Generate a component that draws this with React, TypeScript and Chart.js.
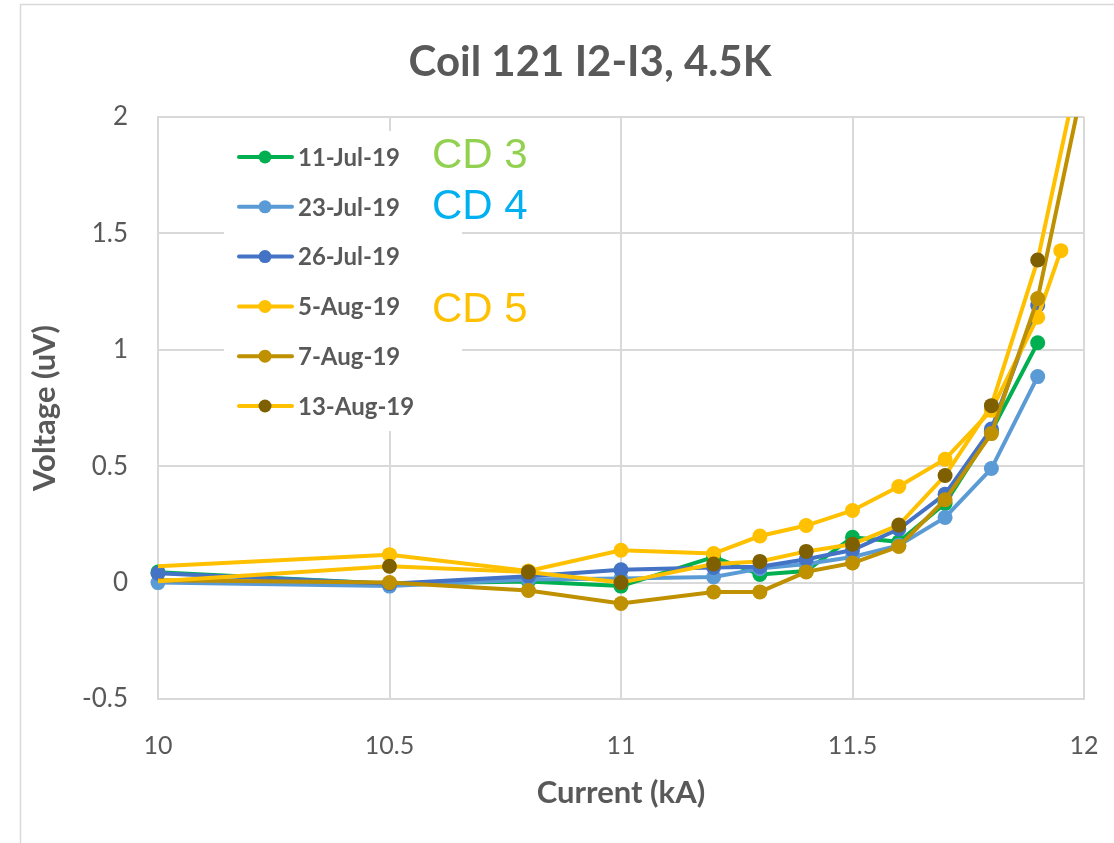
import React, { useEffect, useRef } from "react";
import { Chart, registerables } from "chart.js";

Chart.register(...registerables);

// ---- Text ----
const chartTitle = "Coil 121 I2-I3, 4.5K";
const xAxisTitle = "Current (kA)";
const yAxisTitle = "Voltage (uV)";

// ---- Axis ticks ----
const xTicks = [10, 10.5, 11, 11.5, 12];
const yTicks = [-0.5, 0, 0.5, 1, 1.5, 2];

// ---- Series (current in kA, voltage in uV) ----
const seriesNames = ["11-Jul-19", "23-Jul-19", "26-Jul-19", "5-Aug-19", "7-Aug-19", "13-Aug-19"];

const julCurrent = [10, 10.5, 10.8, 11, 11.2, 11.3, 11.4, 11.5, 11.6, 11.7, 11.8, 11.9];
const jul11Voltage = [0.045, -0.005, 0.005, -0.015, 0.11, 0.035, 0.05, 0.195, 0.175, 0.34, 0.65, 1.03];
const jul23Voltage = [0.0, -0.015, 0.013, 0.018, 0.024, 0.06, 0.08, 0.11, 0.16, 0.28, 0.49, 0.885];
const jul26Voltage = [0.04, -0.005, 0.027, 0.055, 0.065, 0.068, 0.1, 0.14, 0.23, 0.38, 0.66, 1.19];

const aug5Current = [9.5, 10.5, 10.8, 11, 11.2, 11.3, 11.4, 11.5, 11.6, 11.7, 11.8, 11.9, 11.95];
const aug5Voltage = [0.02, 0.12, 0.05, 0.139, 0.125, 0.2, 0.245, 0.31, 0.413, 0.53, 0.74, 1.14, 1.426];

const aug7Current = [9.5, 10.5, 10.8, 11, 11.2, 11.3, 11.4, 11.5, 11.6, 11.7, 11.8, 11.9, 12];
const aug7Voltage = [0.02, 0.0, -0.034, -0.09, -0.04, -0.04, 0.046, 0.084, 0.155, 0.356, 0.64, 1.22, 2.16];

const aug13Current = [9.5, 10.5, 10.8, 11, 11.2, 11.3, 11.4, 11.5, 11.6, 11.7, 11.8, 11.9, 12];
const aug13Voltage = [-0.058, 0.07, 0.046, 0.0, 0.08, 0.091, 0.134, 0.165, 0.247, 0.46, 0.76, 1.386, 2.31];

const seriesCurrents = [julCurrent, julCurrent, julCurrent, aug5Current, aug7Current, aug13Current];
const seriesVoltages = [jul11Voltage, jul23Voltage, jul26Voltage, aug5Voltage, aug7Voltage, aug13Voltage];

const lineColors = ["#00B050", "#5B9BD5", "#4472C4", "#FFC000", "#BF9000", "#FFC000"];
const markerColors = ["#00B050", "#5B9BD5", "#4472C4", "#FFC000", "#BF9000", "#7F6000"];

// ---- Cool-down annotations ----
const cdLabels = ["CD 3", "CD 4", "CD 5"];
const cdColors = ["#92D050", "#00B0F0", "#FFC000"];
const cdBaselines = [168, 219, 322];

const TEXT = "#595959";
const GRID = "#D9D9D9";
const FONT = "Lato, 'Open Sans', sans-serif";

const framePlugin = {
  id: "frame",
  beforeDraw(chart: any) {
    const { ctx, width, height } = chart;
    ctx.save();
    ctx.fillStyle = "#ffffff";
    ctx.fillRect(0, 0, width, height);
    ctx.strokeStyle = GRID;
    ctx.lineWidth = 1.5;
    ctx.beginPath();
    ctx.moveTo(20.5, height);
    ctx.lineTo(20.5, 4.5);
    ctx.lineTo(width, 4.5);
    ctx.stroke();
    // chart title
    ctx.fillStyle = TEXT;
    ctx.font = `bold 42px ${FONT}`;
    ctx.textAlign = "center";
    ctx.textBaseline = "middle";
    ctx.fillText(chartTitle, 590, 62);
    ctx.restore();
  },
};

const insetLegendPlugin = {
  id: "insetLegend",
  afterDraw(chart: any) {
    const { ctx } = chart;
    ctx.save();
    // legend panel
    ctx.fillStyle = "#ffffff";
    ctx.fillRect(224, 131, 238, 300);
    const rowTop = 157;
    const rowGap = 49.8;
    seriesNames.forEach((name, i) => {
      const y = rowTop + i * rowGap;
      ctx.strokeStyle = lineColors[i];
      ctx.lineWidth = 4;
      ctx.lineCap = "round";
      ctx.beginPath();
      ctx.moveTo(239, y);
      ctx.lineTo(292, y);
      ctx.stroke();
      ctx.fillStyle = markerColors[i];
      ctx.beginPath();
      ctx.arc(265, y, 6.5, 0, Math.PI * 2);
      ctx.fill();
      ctx.fillStyle = TEXT;
      ctx.font = `bold 24px ${FONT}`;
      ctx.textAlign = "left";
      ctx.textBaseline = "middle";
      ctx.fillText(name, 298, y + 1);
    });
    // cool-down labels
    ctx.font = `42px 'Liberation Sans', Arial, sans-serif`;
    ctx.textBaseline = "alphabetic";
    cdLabels.forEach((label, i) => {
      ctx.fillStyle = cdColors[i];
      ctx.fillText(label, 432, cdBaselines[i]);
    });
    ctx.restore();
  },
};

export default function App() {
  const canvasRef = useRef<HTMLCanvasElement | null>(null);

  useEffect(() => {
    if (!canvasRef.current) return;
    const n = seriesNames.length;
    const datasets = seriesNames.map((name, i) => ({
      label: name,
      data: seriesCurrents[i].map((x, j) => ({ x, y: seriesVoltages[i][j] })),
      showLine: true,
      tension: 0,
      borderColor: lineColors[i],
      backgroundColor: markerColors[i],
      borderWidth: 4,
      pointRadius: 7.5,
      pointHoverRadius: 7.5,
      pointBorderWidth: 0,
      pointBackgroundColor: markerColors[i],
      pointBorderColor: markerColors[i],
      order: n - i,
      // July runs stay inside the plot, so their edge markers are drawn whole
      clip: i < 3 ? (false as any) : undefined,
    }));

    const chart = new Chart(canvasRef.current, {
      type: "scatter",
      data: { datasets },
      options: {
        responsive: false,
        animation: false,
        events: [],
        layout: { padding: { left: 20, top: 117, right: 30, bottom: 0 } },
        plugins: {
          legend: { display: false },
          tooltip: { enabled: false },
          title: { display: false },
        },
        scales: {
          x: {
            type: "linear",
            min: 10,
            max: 12,
            afterBuildTicks: (s: any) => {
              s.ticks = xTicks.map((value) => ({ value }));
            },
            afterFit: (s: any) => {
              s.height = 144;
              // end labels fit inside the side margins already
              s.paddingLeft = 0;
              s.paddingRight = 0;
            },
            ticks: {
              padding: 32,
              color: TEXT,
              maxRotation: 0,
              autoSkip: false,
              font: { family: FONT, size: 25 },
              callback: (v: any) => String(v),
            },
            grid: { color: GRID, lineWidth: 2, drawTicks: false },
            border: { color: GRID, width: 2 },
            title: {
              display: true,
              text: xAxisTitle,
              color: TEXT,
              font: { family: FONT, size: 31, weight: "bold" },
              padding: { top: 0, bottom: 31 },
            },
          },
          y: {
            type: "linear",
            min: -0.5,
            max: 2,
            afterBuildTicks: (s: any) => {
              s.ticks = yTicks.map((value) => ({ value }));
            },
            afterFit: (s: any) => {
              s.width = 138;
              s.paddingTop = 0;
              s.paddingBottom = 0;
            },
            ticks: {
              padding: 30,
              color: TEXT,
              font: { family: FONT, size: 26 },
              callback: (v: any) => String(v),
            },
            grid: { color: GRID, lineWidth: 2, drawTicks: false },
            border: { color: GRID, width: 2 },
            title: {
              display: true,
              text: yAxisTitle,
              color: TEXT,
              font: { family: FONT, size: 31, weight: "bold" },
              padding: { top: 6, bottom: 0 },
            },
          },
        },
      },
      plugins: [framePlugin, insetLegendPlugin],
    });
    return () => chart.destroy();
  }, []);

  return (
    <div style={{ position: "fixed", left: 0, top: 0, width: 1114, height: 843, background: "#fff" }}>
      <canvas ref={canvasRef} width={1114} height={843} style={{ display: "block" }} />
    </div>
  );
}
